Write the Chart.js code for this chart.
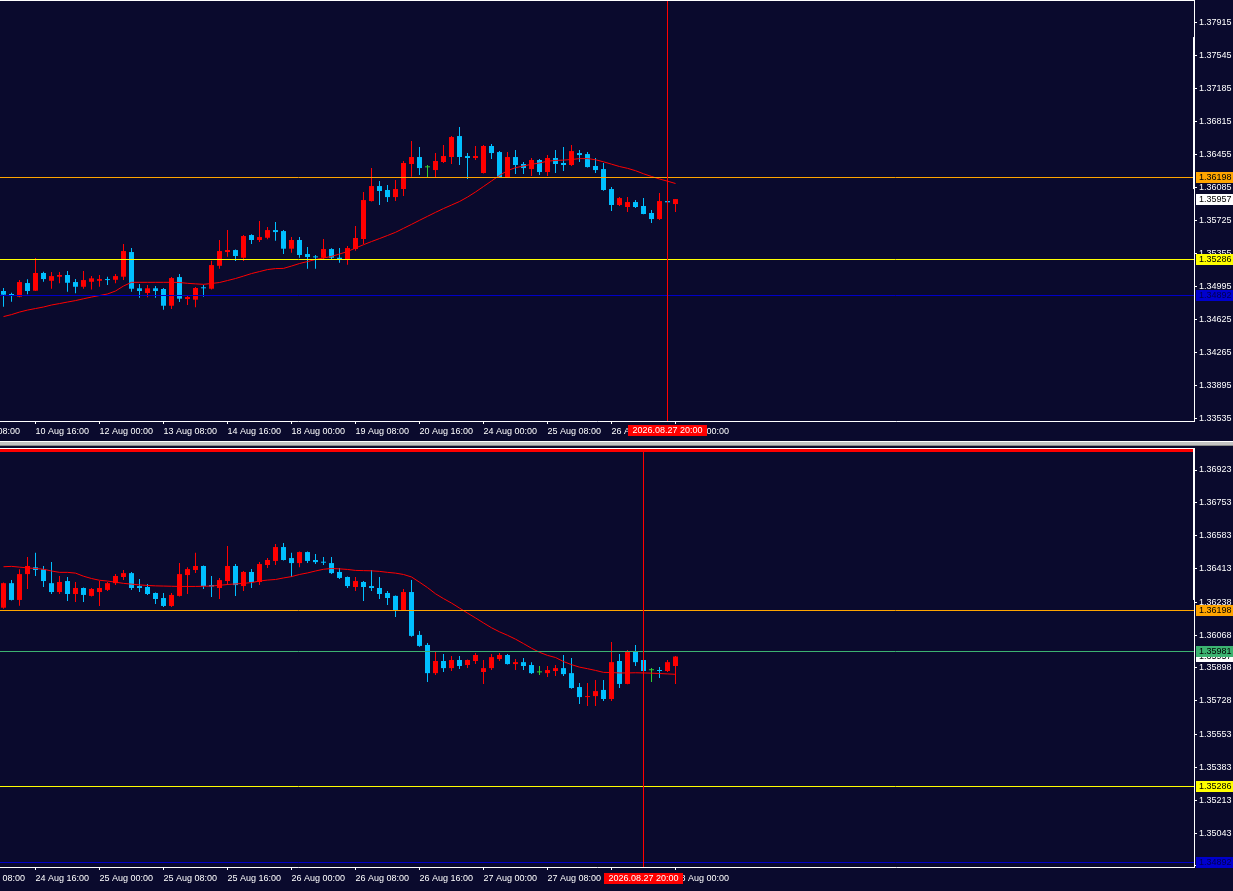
<!DOCTYPE html>
<html><head><meta charset="utf-8">
<script src="https://cdn.jsdelivr.net/npm/chart.js@4.4.1/dist/chart.umd.min.js"></script>
<style>
html,body{margin:0;padding:0;background:#0a0a2d;overflow:hidden;width:1233px;height:891px;}
canvas{position:absolute;left:0;display:block;}
#top{top:0;}
#bot{top:448px;}
#sep{position:absolute;left:0;top:441px;width:1233px;height:5px;background:#c4c4c4;border-top:1px solid #ffffff;border-bottom:1px solid #8a8a8a;box-sizing:border-box;}
</style></head><body>
<canvas id="top" width="1233" height="441"></canvas>
<div id="sep"></div>
<canvas id="bot" width="1233" height="443"></canvas>
<script>
// ---------- TOP PANEL (H4) ----------
const topOpen = [1.34940,1.34907,1.34877,1.35028,1.34943,1.35139,1.35053,1.35098,1.35117,1.35039,
1.34987,1.35042,1.35053,1.35069,1.35064,1.35098,1.35371,1.34970,1.34918,1.34970,
1.34962,1.34777,1.35094,1.34851,1.34844,1.34976,1.34965,1.35219,1.35371,1.35393,
1.35308,1.35559,1.35504,1.35529,1.35614,1.35603,1.35408,1.35504,1.35349,1.35319,
1.35308,1.35404,1.35308,1.35283,1.35404,1.35515,1.35935,1.36101,1.36057,1.35979,
1.36068,1.36345,1.36422,1.36308,1.36278,1.36367,1.36422,1.36654,1.36433,1.36411,
1.36245,1.36544,1.36477,1.36201,1.36422,1.36345,1.36289,1.36389,1.36256,1.36411,
1.36356,1.36334,1.36466,1.36455,1.36323,1.36289,1.36068,1.35891,1.35869,1.35924,
1.35880,1.35803,1.35736,1.35935,1.35902];
const topHigh = [1.34973,1.34921,1.35061,1.35069,1.35305,1.35153,1.35150,1.35150,1.35161,1.35072,
1.35161,1.35105,1.35117,1.35098,1.35128,1.35459,1.35415,1.35017,1.35006,1.34995,
1.34973,1.35094,1.35128,1.34892,1.34984,1.35006,1.35275,1.35504,1.35614,1.35398,
1.35559,1.35567,1.35714,1.35647,1.35703,1.35614,1.35537,1.35537,1.35426,1.35338,
1.35515,1.35412,1.35415,1.35437,1.35658,1.36035,1.36300,1.36157,1.36112,1.36168,
1.36378,1.36599,1.36533,1.36334,1.36466,1.36555,1.36654,1.36754,1.36466,1.36544,
1.36555,1.36566,1.36488,1.36477,1.36499,1.36367,1.36411,1.36400,1.36444,1.36499,
1.36533,1.36555,1.36499,1.36477,1.36411,1.36356,1.36090,1.35979,1.35979,1.35946,
1.35968,1.35836,1.36024,1.35937,1.35957];
const topLow = [1.34766,1.34821,1.34870,1.34903,1.34940,1.35042,1.34965,1.35025,1.34932,1.34914,
1.34965,1.34958,1.34987,1.35006,1.35025,1.35061,1.34932,1.34866,1.34870,1.34866,
1.34733,1.34740,1.34818,1.34785,1.34759,1.34877,1.34958,1.35186,1.35319,1.35271,
1.35271,1.35459,1.35481,1.35512,1.35496,1.35349,1.35364,1.35308,1.35186,1.35186,
1.35283,1.35290,1.35253,1.35231,1.35385,1.35459,1.35930,1.35891,1.35924,1.35935,
1.35990,1.36204,1.36223,1.36201,1.36201,1.36356,1.36345,1.36334,1.36179,1.36389,
1.36240,1.36400,1.36197,1.36197,1.36234,1.36234,1.36212,1.36223,1.36212,1.36245,
1.36267,1.36323,1.36367,1.36305,1.36245,1.36050,1.35825,1.35880,1.35814,1.35858,
1.35790,1.35692,1.35725,1.35919,1.35814];
const topClose = [1.34899,1.34884,1.35039,1.34940,1.35139,1.35072,1.35105,1.35117,1.35031,1.34987,
1.35061,1.35080,1.35072,1.35061,1.35105,1.35382,1.34965,1.34940,1.34970,1.34940,
1.34777,1.35083,1.34855,1.34873,1.34973,1.34970,1.35227,1.35382,1.35393,1.35327,
1.35548,1.35504,1.35537,1.35614,1.35592,1.35408,1.35504,1.35338,1.35316,1.35312,
1.35404,1.35308,1.35283,1.35415,1.35526,1.35946,1.36101,1.36046,1.35979,1.36068,
1.36356,1.36422,1.36300,1.36308,1.36378,1.36433,1.36643,1.36422,1.36411,1.36433,
1.36544,1.36466,1.36201,1.36422,1.36334,1.36300,1.36389,1.36256,1.36411,1.36345,
1.36334,1.36488,1.36444,1.36311,1.36278,1.36057,1.35891,1.35968,1.35924,1.35869,
1.35792,1.35736,1.35935,1.35921,1.35957];
const topMA = [1.34657,1.34679,1.34707,1.34729,1.34746,1.34763,1.34785,1.34801,1.34818,1.34834,
1.34854,1.34873,1.34890,1.34907,1.34940,1.34995,1.35036,1.35036,1.35036,1.35036,
1.35036,1.35036,1.35034,1.35025,1.35019,1.35014,1.35023,1.35034,1.35056,1.35078,
1.35105,1.35133,1.35155,1.35177,1.35188,1.35190,1.35216,1.35244,1.35266,1.35288,
1.35305,1.35323,1.35349,1.35377,1.35415,1.35452,1.35487,1.35520,1.35554,1.35589,
1.35633,1.35677,1.35722,1.35766,1.35810,1.35852,1.35891,1.35930,1.35979,1.36035,
1.36096,1.36157,1.36218,1.36273,1.36304,1.36323,1.36342,1.36356,1.36376,1.36384,
1.36388,1.36395,1.36404,1.36405,1.36392,1.36369,1.36343,1.36317,1.36297,1.36271,
1.36237,1.36207,1.36179,1.36155,1.36129];
const topTickLabels = ["9 Aug 08:00","10 Aug 16:00","12 Aug 00:00","13 Aug 08:00","14 Aug 16:00","18 Aug 00:00","19 Aug 08:00","20 Aug 16:00","24 Aug 00:00","25 Aug 08:00","26 Aug 16:00","28 Aug 00:00"];
const topPriceTicks = [1.37915,1.37545,1.37185,1.36815,1.36455,1.36085,1.35725,1.35355,1.34995,1.34625,1.34265,1.33895,1.33535];

// ---------- BOTTOM PANEL (H1) ----------
const botOpen = [1.36210,1.36337,1.36250,1.36384,1.36419,1.36409,1.36337,1.36291,1.36348,1.36281,
1.36312,1.36271,1.36291,1.36302,1.36337,1.36369,1.36389,1.36322,1.36317,1.36286,
1.36260,1.36219,1.36271,1.36379,1.36405,1.36426,1.36327,1.36312,1.36348,1.36426,
1.36322,1.36395,1.36343,1.36431,1.36452,1.36524,1.36467,1.36441,1.36498,1.36457,
1.36446,1.36441,1.36395,1.36369,1.36317,1.36343,1.36322,1.36312,1.36286,1.36271,
1.36198,1.36291,1.36069,1.36017,1.35871,1.35934,1.35897,1.35939,1.35913,1.35934,
1.35877,1.35897,1.35944,1.35965,1.35918,1.35928,1.35913,1.35875,1.35871,1.35882,
1.35897,1.35871,1.35799,1.35747,1.35752,1.35784,1.35737,1.35934,1.35815,1.35985,
1.35939,1.35886,1.35887,1.35882,1.35908];
const botHigh = [1.36340,1.36353,1.36409,1.36472,1.36494,1.36426,1.36446,1.36374,1.36369,1.36343,
1.36315,1.36312,1.36348,1.36343,1.36384,1.36405,1.36395,1.36358,1.36333,1.36289,
1.36286,1.36286,1.36441,1.36420,1.36494,1.36429,1.36374,1.36364,1.36529,1.36436,
1.36400,1.36410,1.36446,1.36467,1.36540,1.36545,1.36494,1.36501,1.36501,1.36488,
1.36472,1.36472,1.36415,1.36372,1.36369,1.36348,1.36405,1.36369,1.36296,1.36273,
1.36307,1.36353,1.36089,1.36027,1.35985,1.35970,1.35960,1.35960,1.35941,1.35975,
1.35939,1.35970,1.35975,1.35970,1.35944,1.35949,1.35928,1.35908,1.35908,1.35913,
1.35965,1.35949,1.35820,1.35820,1.35836,1.35836,1.36032,1.35970,1.35991,1.36017,
1.35941,1.35897,1.35903,1.35939,1.35960];
const botLow = [1.36205,1.36247,1.36220,1.36307,1.36374,1.36317,1.36281,1.36281,1.36245,1.36240,
1.36240,1.36268,1.36219,1.36296,1.36327,1.36353,1.36302,1.36291,1.36276,1.36229,
1.36214,1.36214,1.36268,1.36281,1.36389,1.36307,1.36265,1.36255,1.36327,1.36271,
1.36296,1.36312,1.36327,1.36415,1.36431,1.36454,1.36369,1.36420,1.36441,1.36436,
1.36431,1.36384,1.36358,1.36312,1.36296,1.36245,1.36296,1.36255,1.36224,1.36162,
1.36195,1.36060,1.36008,1.35825,1.35861,1.35877,1.35882,1.35892,1.35897,1.35918,
1.35815,1.35887,1.35934,1.35916,1.35887,1.35887,1.35866,1.35861,1.35851,1.35856,
1.35856,1.35790,1.35711,1.35701,1.35701,1.35727,1.35727,1.35794,1.35813,1.35908,
1.35879,1.35825,1.35846,1.35877,1.35815];
const botClose = [1.36337,1.36250,1.36384,1.36426,1.36405,1.36348,1.36291,1.36343,1.36281,1.36312,
1.36276,1.36307,1.36312,1.36337,1.36374,1.36389,1.36312,1.36312,1.36281,1.36255,
1.36219,1.36276,1.36384,1.36410,1.36426,1.36322,1.36320,1.36353,1.36426,1.36327,
1.36395,1.36343,1.36436,1.36457,1.36524,1.36457,1.36441,1.36498,1.36452,1.36446,
1.36443,1.36389,1.36364,1.36322,1.36348,1.36317,1.36312,1.36281,1.36260,1.36198,
1.36291,1.36064,1.36012,1.35871,1.35934,1.35897,1.35939,1.35908,1.35939,1.35965,
1.35897,1.35954,1.35965,1.35918,1.35928,1.35908,1.35871,1.35875,1.35887,1.35897,
1.35866,1.35794,1.35747,1.35752,1.35778,1.35737,1.35928,1.35815,1.35985,1.35928,
1.35882,1.35886,1.35882,1.35928,1.35957];
const botMA = [1.36422,1.36424,1.36420,1.36416,1.36413,1.36409,1.36400,1.36393,1.36393,1.36389,
1.36373,1.36361,1.36352,1.36348,1.36342,1.36336,1.36332,1.36328,1.36325,1.36323,
1.36322,1.36321,1.36320,1.36320,1.36320,1.36321,1.36322,1.36326,1.36330,1.36333,
1.36336,1.36340,1.36348,1.36353,1.36356,1.36364,1.36371,1.36382,1.36390,1.36400,
1.36409,1.36413,1.36411,1.36408,1.36403,1.36402,1.36401,1.36398,1.36393,1.36389,
1.36382,1.36369,1.36342,1.36314,1.36282,1.36257,1.36234,1.36208,1.36182,1.36157,
1.36131,1.36106,1.36085,1.36067,1.36047,1.36024,1.36000,1.35979,1.35963,1.35952,
1.35931,1.35915,1.35902,1.35894,1.35885,1.35875,1.35874,1.35872,1.35872,1.35873,
1.35872,1.35871,1.35869,1.35867,1.35865];
const botTickLabels = ["24 Aug 08:00","24 Aug 16:00","25 Aug 00:00","25 Aug 08:00","25 Aug 16:00","26 Aug 00:00","26 Aug 08:00","26 Aug 16:00","27 Aug 00:00","27 Aug 08:00","27 Aug 16:00","28 Aug 00:00"];
const botPriceTicks = [1.36923,1.36753,1.36583,1.36413,1.36238,1.36068,1.35898,1.35728,1.35553,1.35383,1.35213,1.35043,1.34873];

// ---------- LEVELS / MARKERS ----------
const currentPrice = 1.35957;
const topLevelPrices = [1.36198, 1.35286, 1.34892];
const botLevelPrices = [1.37024, 1.36198, 1.35981, 1.35286, 1.34892];
const topCrossIndex = 83, botCrossIndex = 80;
const crossLabel = "2026.08.27 20:00";
const topAxisMark = [1.36068, 1.37749];
const botAxisMark = [1.36250, 1.37037];
const topRange = [1.33502, 1.38159];
const botRange = [1.34867, 1.37037];

// ---------- STYLES ----------
const BULL = '#ff0000', BEAR = '#00bfff', DOJI = '#32cd32';
const FONT = '"Liberation Sans", Arial, sans-serif';
const topLevelStyle = [
  {color:'#ffa500', width:1, label:true, bg:'#ffa500', fg:'#000000'},
  {color:'#ffff00', width:1, label:true, bg:'#ffff00', fg:'#000000'},
  {color:'#0000c8', width:1, label:true, bg:'#0000cd', fg:'#000050'}
];
const botLevelStyle = [
  {color:'#ff0000', width:3, label:false},
  {color:'#ffa500', width:1, label:true, bg:'#ffa500', fg:'#000000'},
  {color:'#3cb371', width:1, label:true, bg:'#3cb371', fg:'#000000'},
  {color:'#ffff00', width:1, label:true, bg:'#ffff00', fg:'#000000'},
  {color:'#0000c8', width:1, label:true, bg:'#0000cd', fg:'#000050'}
];

Chart.defaults.font.family = FONT;
Chart.defaults.font.size = 9;

function overlay(cfg){
  return {
    id:'overlay',
    afterDatasetsDraw(chart){
      const {ctx, chartArea:a, scales:{x,y}} = chart;
      ctx.save();
      ctx.beginPath(); ctx.rect(a.left, a.top, a.right-a.left, a.bottom-a.top); ctx.clip();
      cfg.levels.forEach((p,k)=>{
        const st = cfg.styles[k];
        let py = y.getPixelForValue(p);
        py = st.width % 2 ? Math.floor(py)+0.5 : Math.round(py);
        ctx.strokeStyle = st.color; ctx.lineWidth = st.width;
        ctx.beginPath(); ctx.moveTo(a.left, py); ctx.lineTo(a.right, py); ctx.stroke();
      });
      const vx = Math.floor(x.getPixelForValue(cfg.crossIndex)) + 0.5;
      ctx.strokeStyle = '#ff0000'; ctx.lineWidth = 1;
      ctx.beginPath(); ctx.moveTo(vx, a.top); ctx.lineTo(vx, a.bottom); ctx.stroke();
      ctx.restore();
    },
    afterDraw(chart){
      const {ctx, chartArea:a, scales:{x,y}} = chart;
      ctx.save();
      ctx.fillStyle = '#ffffff';
      ctx.fillRect(a.left, a.top, a.right-a.left, 1);
      const m1 = y.getPixelForValue(cfg.axisMark[1]), m0 = y.getPixelForValue(cfg.axisMark[0]);
      ctx.fillRect(a.right-1, Math.max(a.top, m1), 2, m0-Math.max(a.top, m1));
      ctx.font = '9px ' + FONT;
      ctx.textBaseline = 'middle'; ctx.textAlign = 'left';
      const drawLabel = (p, bg, fg) => {
        const py = Math.floor(y.getPixelForValue(p));
        ctx.fillStyle = bg; ctx.fillRect(a.right+2, py-5, 40, 11);
        ctx.fillStyle = fg; ctx.fillText(p.toFixed(5), a.right+5, py+0.5);
      };
      drawLabel(cfg.current, '#ffffff', '#000000');
      cfg.levels.forEach((p,k)=>{ const st = cfg.styles[k]; if (st.label) drawLabel(p, st.bg, st.fg); });
      const vx = Math.floor(x.getPixelForValue(cfg.crossIndex)) + 0.5;
      const w = ctx.measureText(cfg.crossLabel).width + 9;
      ctx.fillStyle = '#ff0000';
      ctx.fillRect(Math.round(vx - w/2), a.bottom + cfg.dateOff, Math.round(w), 11);
      ctx.fillStyle = '#ffffff'; ctx.textAlign = 'center';
      ctx.fillText(cfg.crossLabel, vx, a.bottom + cfg.dateOff + 6);
      ctx.restore();
    }
  };
}

function makeChart(id, s){
  const colors = s.open.map((o,i)=> s.close[i] > o ? BULL : (s.close[i] < o ? BEAR : DOJI));
  const xMin = -3.5/8, xMax = xMin + 1194/8;
  new Chart(document.getElementById(id), {
    type:'bar',
    data:{datasets:[
      {type:'line', data:s.ma.map((v,i)=>({x:i,y:v})), borderColor:'#ff0000', borderWidth:1,
       pointRadius:0, tension:0, fill:false, order:0},
      {data:s.open.map((o,i)=>({x:i,y:[o, s.close[i]]})), backgroundColor:colors, borderWidth:0,
       barThickness:5, minBarLength:1, grouped:false, inflateAmount:0, order:1},
      {data:s.low.map((l,i)=>({x:i,y:[l, s.high[i]]})), backgroundColor:colors, borderWidth:0,
       barThickness:1, minBarLength:1, grouped:false, inflateAmount:0, order:2}
    ]},
    options:{
      responsive:false, animation:false, devicePixelRatio:1,
      layout:{padding:0},
      plugins:{legend:{display:false}, tooltip:{enabled:false}},
      scales:{
        x:{type:'linear', min:xMin, max:xMax, offset:false,
           afterBuildTicks:sc=>{ sc.ticks = s.tickLabels.map((_,k)=>({value:-4 + 8*k})); },
           afterFit:sc=>{ sc.height = s.xAxisH; sc.paddingLeft = 0; sc.paddingRight = 0; },
           ticks:{autoSkip:false, maxRotation:0, minRotation:0, align:'start', color:'#ffffff',
                  padding:s.xPad, callback:(v,k)=>s.tickLabels[k]},
           grid:{display:true, drawOnChartArea:false, drawTicks:true, tickLength:3, color:'#ffffff', offset:false},
           border:{display:true, color:'#ffffff', width:1}},
        y:{type:'linear', position:'right', min:s.range[0], max:s.range[1],
           afterBuildTicks:sc=>{ sc.ticks = s.priceTicks.map(v=>({value:v})); },
           afterFit:sc=>{ sc.width = 39; sc.paddingTop = 0; sc.paddingBottom = 0; },
           ticks:{autoSkip:false, color:'#ffffff', padding:2, callback:v=>Number(v).toFixed(5)},
           grid:{display:true, drawOnChartArea:false, drawTicks:true, tickLength:3, color:'#ffffff'},
           border:{display:true, color:'#ffffff', width:1}}
      }
    },
    plugins:[overlay(s.overlay)]
  });
}

makeChart('top', {open:topOpen, high:topHigh, low:topLow, close:topClose, ma:topMA,
  tickLabels:topTickLabels, priceTicks:topPriceTicks, range:topRange, xAxisH:20, xPad:2,
  overlay:{levels:topLevelPrices, styles:topLevelStyle, current:currentPrice,
           crossIndex:topCrossIndex, crossLabel:crossLabel, axisMark:topAxisMark, dateOff:4}});
makeChart('bot', {open:botOpen, high:botHigh, low:botLow, close:botClose, ma:botMA,
  tickLabels:botTickLabels, priceTicks:botPriceTicks, range:botRange, xAxisH:24, xPad:3,
  overlay:{levels:botLevelPrices, styles:botLevelStyle, current:currentPrice,
           crossIndex:botCrossIndex, crossLabel:crossLabel, axisMark:botAxisMark, dateOff:6}});
</script>
</body></html>
